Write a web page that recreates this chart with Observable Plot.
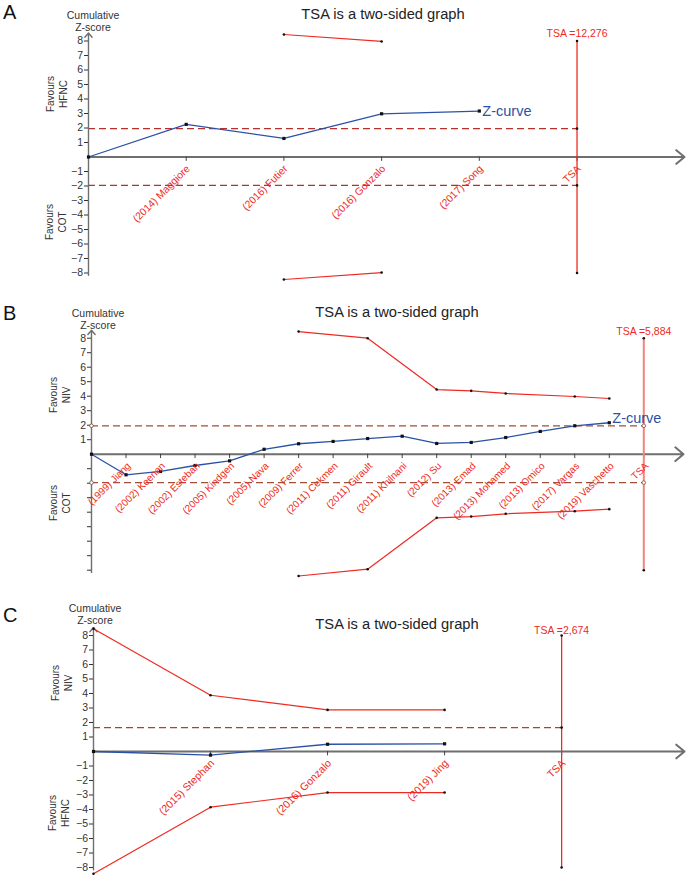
<!DOCTYPE html>
<html>
<head>
<meta charset="utf-8">
<script src="https://cdn.jsdelivr.net/npm/d3@7"></script>
<script src="https://cdn.jsdelivr.net/npm/@observablehq/plot@0.6"></script>
<style>
  html, body { margin: 0; padding: 0; background: #fff; }
  #chart { position: relative; width: 688px; height: 876px; font-family: "Liberation Sans", Arial, Helvetica, sans-serif; color: #333; overflow: hidden; }
  .panel { position: absolute; left: 0; width: 688px; }
  .ann { position: absolute; transform: translate(-50%, -50%); white-space: nowrap; }
  .letter { position: absolute; font-size: 20px; color: #111; transform: translate(0, -50%); }
  .title { font-size: 14.7px; color: #222; }
  .cum { font-size: 10.5px; color: #333; line-height: 12px; text-align: center; }
  .fav { font-size: 10px; color: #333; line-height: 12.5px; text-align: center; transform: translate(-50%, -50%) rotate(-90deg); }
</style>
</head>
<body>
<div id="chart"></div>
<script>
// ---------- Data ----------
// Panel A: HFNC vs COT
const aStudies = ["(2014) Maggiore", "(2016) Futier", "(2016) Gonzalo", "(2017) Song"];
const aZ = [0, 2.25, 1.28, 2.98, 3.17];           // cumulative Z at positions 0..4
const aBoundPos = [2, 3];                          // Futier, Gonzalo
const aUpper = [8.45, 7.97];
const aLower = [-8.45, -7.97];
const aConv = 1.96;
const aTsaLabel = "TSA =12,276";

// Panel B: NIV vs COT
const bStudies = ["(1999) Jiang", "(2002) Keenan", "(2002) Esteban", "(2005) Kindgen", "(2005) Nava",
  "(2009) Ferrer", "(2011) Cekmen", "(2011) Girault", "(2011) Khilnani", "(2012) Su", "(2013) Emad",
  "(2013) Mohamed", "(2013) Omico", "(2017) Vargas", "(2019) Vaschetto"];
const bZ = [0, -1.42, -1.19, -0.78, -0.46, 0.34, 0.72, 0.88, 1.08, 1.24, 0.74, 0.81, 1.15, 1.57, 1.96, 2.17];
const bBoundPos = [6, 8, 10, 11, 12, 14, 15];
const bUpper = [8.46, 8.0, 4.46, 4.37, 4.19, 3.98, 3.84];
const bLower = [-8.4, -7.93, -4.39, -4.3, -4.11, -3.93, -3.79];
const bConv = 1.96;
const bTsaLabel = "TSA =5,884";

// Panel C: NIV vs HFNC
const cStudies = ["(2015) Stephan", "(2016) Gonzalo", "(2019) Jing"];
const cZ = [0, -0.25, 0.5, 0.53];
const cBoundPos = [0, 1, 2, 3];
const cUpper = [8.46, 3.88, 2.87, 2.87];
const cLower = [-8.43, -3.84, -2.83, -2.83];
const cConv = 1.65;
const cTsaLabel = "TSA =2,674";

const yTicks = [-8, -7, -6, -5, -4, -3, -2, -1, 1, 2, 3, 4, 5, 6, 7, 8];

// ---------- Styles ----------
const RED = "#ee2a22";
const BLUE = "#2c52a6";
const AXIS = "#6f6f6f";
const FONT = "'Liberation Sans', Arial, Helvetica, sans-serif";

function panel(o) {
  const n = o.studies.length;
  const tsaPos = n + 1;
  const labels = o.studies.map((s, i) => ({x: i + 1, t: s})).concat([{x: tsaPos, t: "TSA"}]);
  const zData = o.z.map((v, i) => ({x: i, y: v}));
  const up = o.boundPos.map((p, i) => ({x: p, y: o.upper[i]}));
  const lo = o.boundPos.map((p, i) => ({x: p, y: o.lower[i]}));
  const convs = o.twoSided ? [o.conv, -o.conv] : [o.conv];
  const tsaDots = [{x: tsaPos, y: 8}, {x: tsaPos, y: -8}];
  const convDots = convs.map(c => ({x: tsaPos, y: c})).concat(o.openEnds ? convs.map(c => ({x: 0, y: c})) : []);
  const tickPos = d3.range(1, tsaPos + 1);
  const last = zData[zData.length - 1];

  const marks = [
    // conventional boundary dashed lines
    Plot.ruleY(convs, {x1: 0, x2: tsaPos, stroke: o.dashColor, strokeWidth: 1.3, strokeDasharray: "7,4"}),
    // x axis with arrow
    Plot.arrow([{x1: 0, y1: 0, x2: o.xMax, y2: 0}], {x1: "x1", y1: "y1", x2: "x2", y2: "y2", stroke: AXIS, strokeWidth: 2, headLength: 8, headAngle: 80}),
    // y axis with arrow
    Plot.arrow([{x1: 0, y1: -8.15, x2: 0, y2: 8.55}], {x1: "x1", y1: "y1", x2: "x2", y2: "y2", stroke: AXIS, strokeWidth: 1.4, headLength: 6, headAngle: 80}),
    Plot.axisY({ticks: yTicks, tickSize: 4, tickPadding: 1.5, fontSize: 10.5, color: "#333",
      tickFormat: d => d < 0 ? (o.negLabels ? "\u2212" + (-d) : "") : String(d), label: null}),
    // x ticks
    Plot.ruleX(tickPos, {x: d => d, y1: 0, y2: -0.3, stroke: "#444", strokeWidth: 1}),
    // TSA vertical line
    Plot.ruleX([tsaPos], {y1: -8, y2: 8, stroke: o.tsaStroke, strokeWidth: o.tsaWidth}),
    // boundaries
    Plot.line(up, {x: "x", y: "y", stroke: RED, strokeWidth: 1.2}),
    Plot.line(lo, {x: "x", y: "y", stroke: RED, strokeWidth: 1.2}),
    Plot.dot(up.concat(lo), {x: "x", y: "y", r: 1.3, fill: "#111"}),
    Plot.dot(tsaDots, {x: "x", y: "y", r: 1.3, fill: "#111"}),
    o.openEnds
      ? Plot.dot(convDots, {x: "x", y: "y", r: 1.8, fill: "white", stroke: "#7a4a3a", strokeWidth: 0.8})
      : Plot.dot(convDots, {x: "x", y: "y", r: 1.3, fill: "#111"}),
    // Z-curve
    Plot.line(zData, {x: "x", y: "y", stroke: BLUE, strokeWidth: 1.3}),
    Plot.dot(zData, {x: "x", y: "y", symbol: "square", r: 1.8, fill: "#111"}),
    // labels
    Plot.text(labels, {x: "x", y: 0, text: "t", rotate: -45, textAnchor: "end", dx: o.ldx, dy: o.ldy, fill: RED, fontSize: o.lfs}),
    Plot.text([{x: tsaPos, y: 8, t: o.tsaLabel}], {x: "x", y: "y", text: "t", dy: o.tdy, fill: RED, fontSize: 10.5}),
  ];
  if (o.zLabel) marks.push(Plot.text([last], {x: "x", y: "y", text: () => "Z-curve", textAnchor: "start", dx: 3, dy: o.zdy, fill: BLUE, fontSize: 14.5}));

  return Plot.plot({
    width: 688,
    height: o.height,
    marginLeft: o.ml,
    marginRight: o.mr,
    marginTop: o.mt,
    marginBottom: o.mb,
    style: {background: "transparent", overflow: "visible", fontFamily: FONT},
    x: {domain: [0, o.xMax], axis: null},
    y: {domain: [-8, 8], axis: null},
    marks
  });
}

const chart = document.getElementById("chart");

function addPanel(top, svg) {
  const d = document.createElement("div");
  d.className = "panel";
  d.style.top = top + "px";
  d.appendChild(svg);
  chart.appendChild(d);
}
function addText(cls, html, x, y) {
  const d = document.createElement("div");
  d.className = cls;
  d.innerHTML = html;
  d.style.left = x + "px";
  d.style.top = y + "px";
  chart.appendChild(d);
}

addPanel(0, panel({studies: aStudies, z: aZ, boundPos: aBoundPos, upper: aUpper, lower: aLower, conv: aConv, twoSided: true,
  tsaLabel: aTsaLabel, xMax: 6.1, ml: 88, mr: 4, mt: 40.5, mb: 17.5, height: 290, negLabels: true, openEnds: false,
  tsaStroke: RED, tsaWidth: 1.3, dashColor: "#b8302a", ldx: 2, ldy: 10, lfs: 10.3, tdy: -7, zLabel: true, zdy: 0}));

addPanel(290, panel({studies: bStudies, z: bZ, boundPos: bBoundPos, upper: bUpper, lower: bLower, conv: bConv, twoSided: true,
  tsaLabel: bTsaLabel, xMax: 17.15, ml: 91, mr: 5, mt: 47.7, mb: 10.3, height: 290, negLabels: false, openEnds: true,
  tsaStroke: "#f2857c", tsaWidth: 2, dashColor: "#a0503a", ldx: 3, ldy: 10, lfs: 10, tdy: -7, zLabel: true, zdy: -4}));

addPanel(580, panel({studies: cStudies, z: cZ, boundPos: cBoundPos, upper: cUpper, lower: cLower, conv: cConv, twoSided: false,
  tsaLabel: cTsaLabel, xMax: 5.05, ml: 93, mr: 4, mt: 55, mb: 9, height: 296, negLabels: true, openEnds: false,
  tsaStroke: RED, tsaWidth: 1.3, dashColor: "#b0402e", ldx: 2, ldy: 10, lfs: 10.6, tdy: -5, zLabel: false, zdy: 0}));

// Panel letters
addText("letter", "A", 3, 12);
addText("letter", "B", 3, 313);
addText("letter", "C", 3, 615);
// Titles
addText("ann title", "TSA is a two-sided graph", 383, 14);
addText("ann title", "TSA is a two-sided graph", 397, 312);
addText("ann title", "TSA is a two-sided graph", 397, 624);
// Y-axis titles
addText("ann cum", "Cumulative<br>Z-score", 93, 21);
addText("ann cum", "Cumulative<br>Z-score", 98, 319);
addText("ann cum", "Cumulative<br>Z-score", 95, 614);
// Favours labels
addText("ann fav", "Favours<br>HFNC", 57, 94);
addText("ann fav", "Favours<br>COT", 56, 222);
addText("ann fav", "Favours<br>NIV", 60, 395);
addText("ann fav", "Favours<br>COT", 60, 503);
addText("ann fav", "Favours<br>NIV", 62, 683);
addText("ann fav", "Favours<br>HFNC", 59, 813);
</script>
</body>
</html>
